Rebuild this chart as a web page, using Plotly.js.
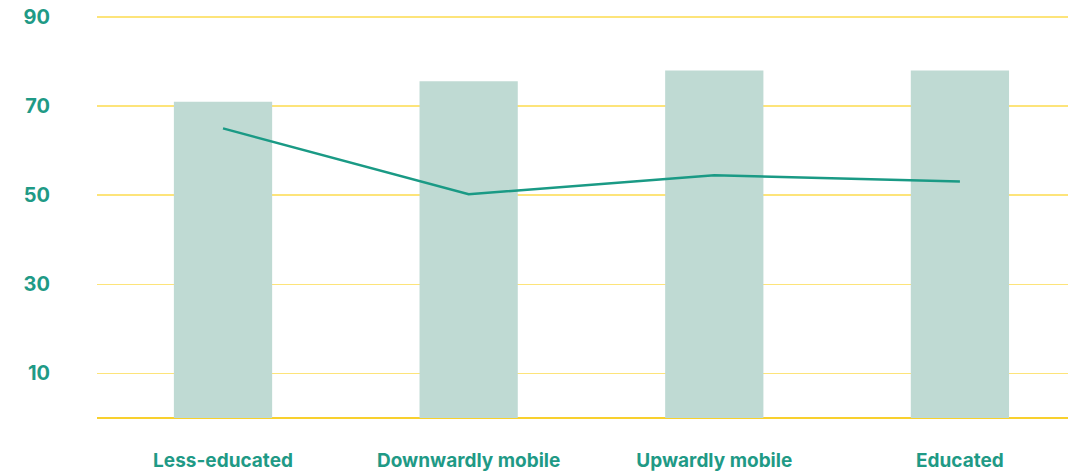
<!DOCTYPE html>
<html>
<head>
<meta charset="utf-8">
<script src="https://cdn.plot.ly/plotly-3.0.1.min.js"></script>
<style>
  html, body { margin: 0; padding: 0; background: #fff; }
  #chart { width: 1068px; height: 471px; }
</style>
</head>
<body>
<div id="chart"></div>
<script>
const categories = ['Less-educated', 'Downwardly mobile', 'Upwardly mobile', 'Educated'];
const barValues = [71, 75.6, 78, 78];
const lineValues = [65, 50.2, 54.5, 53.1];
const yTicks = [10, 30, 50, 70, 90];

const teal = '#1f9a86';
const font = 'Inter, Roboto, "Noto Sans", sans-serif';

const bars = {
    x: categories,
    y: barValues,
    type: 'bar',
    marker: { color: '#bfdad3' },
    hoverinfo: 'x+y'
};

const line = {
    x: categories,
    y: lineValues,
    type: 'scatter',
    mode: 'lines',
    line: { color: '#1a9a85', width: 2.5 },
    hoverinfo: 'x+y'
};

const layout = {
    width: 1068,
    height: 471,
    margin: { l: 97, r: 0, t: 15, b: 53 },
    paper_bgcolor: '#fff',
    plot_bgcolor: '#fff',
    showlegend: false,
    bargap: 0.6,
    xaxis: {
        type: 'category',
        range: [-0.513, 3.44],
        showgrid: false,
        showline: false,
        zeroline: false,
        ticks: '',
        ticklabelstandoff: 29,
        tickfont: { family: font, size: 19, color: teal, weight: 'bold' }
    },
    yaxis: {
        range: [0, 90.45],
        tickvals: yTicks,
        ticktext: yTicks.map(String),
        showgrid: true,
        gridcolor: '#fde47a',
        gridwidth: 1.5,
        zeroline: true,
        zerolinecolor: '#f8d02e',
        zerolinewidth: 1.5,
        showline: false,
        ticks: '',
        ticklabelstandoff: 46,
        tickfont: { family: font, size: 20, color: teal, weight: 'bold' }
    }
};

Plotly.newPlot('chart', [bars, line], layout, { displayModeBar: false, staticPlot: true });
</script>
</body>
</html>
